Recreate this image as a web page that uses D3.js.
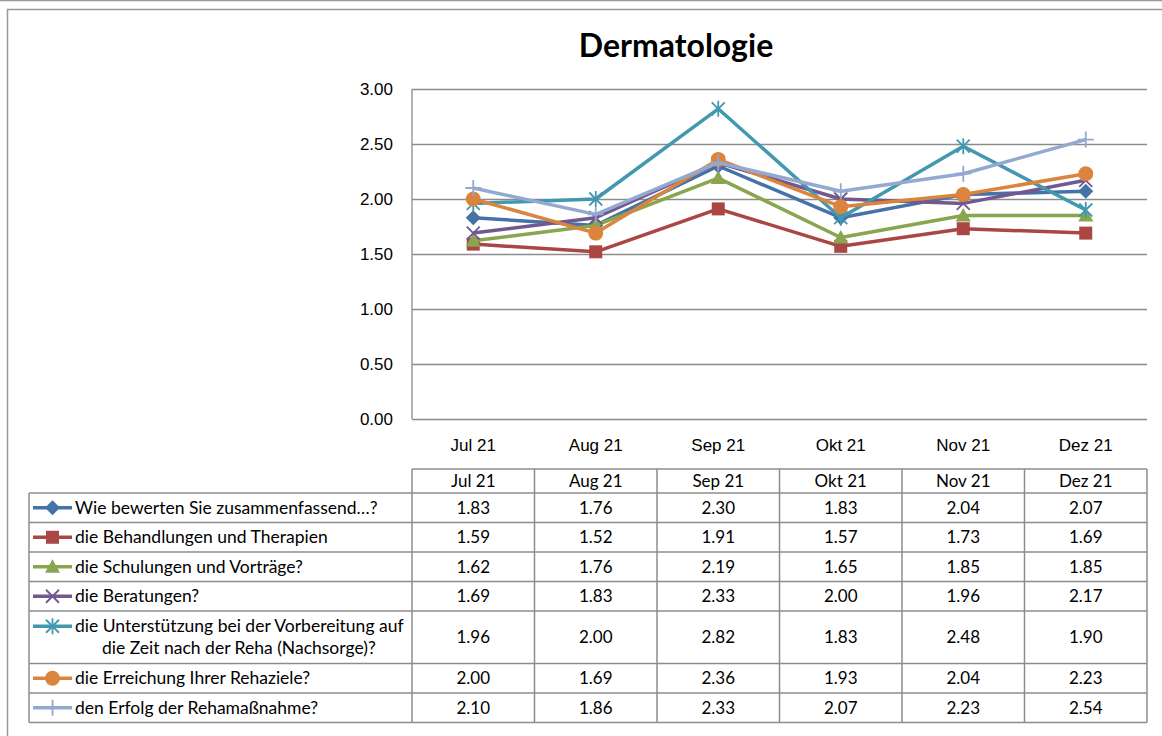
<!DOCTYPE html>
<html>
<head>
<meta charset="utf-8">
<script src="https://cdn.jsdelivr.net/npm/d3@7/dist/d3.min.js"></script>
<style>
body { margin: 0; background: #fff; }
svg { display: block; font-family: Lato, "Open Sans", sans-serif; }
.grid line { stroke: #8c8c8c; stroke-width: 1.3; }
.grid path { display: none; }
.ylab text, .xlab text { font-size: 17px; fill: #000; }
.ylab path, .ylab line, .xlab path, .xlab line { display: none; }
.tbl line { stroke: #8c8c8c; stroke-width: 1.5; }
.tbl text { font-size: 17px; fill: #000; }
.tbl text.leg { font-size: 17.5px; }
</style>
</head>
<body>
<svg width="1162" height="736"></svg>
<script>
// months
var months = ["Jul 21", "Aug 21", "Sep 21", "Okt 21", "Nov 21", "Dez 21"];
var seriesNames = [
  "Wie bewerten Sie zusammenfassend…?",
  "die Behandlungen und Therapien",
  "die Schulungen und Vorträge?",
  "die Beratungen?",
  "die Unterstützung bei der Vorbereitung auf|die Zeit nach der Reha (Nachsorge)?",
  "die Erreichung Ihrer Rehaziele?",
  "den Erfolg der Rehamaßnahme?"
];
var s1 = [1.83, 1.76, 2.30, 1.83, 2.04, 2.07];
var s2 = [1.59, 1.52, 1.91, 1.57, 1.73, 1.69];
var s3 = [1.62, 1.76, 2.19, 1.65, 1.85, 1.85];
var s4 = [1.69, 1.83, 2.33, 2.00, 1.96, 2.17];
var s5 = [1.96, 2.00, 2.82, 1.83, 2.48, 1.90];
var s6 = [2.00, 1.69, 2.36, 1.93, 2.04, 2.23];
var s7 = [2.10, 1.86, 2.33, 2.07, 2.23, 2.54];
var yTicks = [0, 0.5, 1, 1.5, 2, 2.5, 3];

var colors = ["#4572A7", "#AA4643", "#89A54E", "#71588F", "#4198AF", "#DB843D", "#93A9CF"];
var shapes = ["diamond", "square", "triangle", "x", "star", "circle", "plus"];
var series = [s1, s2, s3, s4, s5, s6, s7].map(function(v, i) {
  return {name: seriesNames[i], values: v, color: colors[i], shape: shapes[i]};
});

var svg = d3.select("svg");

// frame lines
svg.append("line").attr("x1", 0).attr("x2", 1162).attr("y1", 0.5).attr("y2", 0.5)
  .attr("stroke", "#999").attr("stroke-width", 1.5);
svg.append("path").attr("d", "M7.5,736V9.5H1162")
  .attr("fill", "none").attr("stroke", "#999").attr("stroke-width", 1.5);

var pLeft = 412, pRight = 1147, pTop = 89, pBottom = 419;
var x = d3.scaleBand().domain(months).range([pLeft, pRight]);
var y = d3.scaleLinear().domain([0, 3]).range([pBottom, pTop]);

svg.append("text").attr("x", 676).attr("y", 57).attr("text-anchor", "middle")
  .style("font-size", "32px").style("font-weight", "bold").text("Dermatologie");

// gridlines
svg.append("g").attr("class", "grid").attr("transform", "translate(" + pLeft + ",0)")
  .call(d3.axisLeft(y).tickValues(yTicks).tickSize(-(pRight - pLeft)).tickFormat(""));
svg.append("line").attr("x1", pLeft).attr("x2", pLeft).attr("y1", pTop).attr("y2", pBottom)
  .attr("stroke", "#8c8c8c").attr("stroke-width", 1.3);

svg.append("g").attr("class", "ylab").attr("transform", "translate(" + (pLeft - 19) + ",0)")
  .call(d3.axisLeft(y).tickValues(yTicks).tickSize(0).tickPadding(0).tickFormat(d3.format(".2f")))
  .selectAll("text").attr("dy", "0.35em");
svg.append("g").attr("class", "xlab").attr("transform", "translate(0," + (pBottom + 26) + ")")
  .call(d3.axisBottom(x).tickSize(0).tickPadding(0))
  .selectAll("text").attr("dy", "0.35em").attr("y", 0);

function marker(g, shape, color, cx, cy) {
  var s = 6.5;
  if (shape == "diamond") {
    g.append("path").attr("d", "M" + cx + "," + (cy - 7.5) + "L" + (cx + 7.5) + "," + cy + "L" + cx + "," + (cy + 7.5) + "L" + (cx - 7.5) + "," + cy + "Z").attr("fill", color);
  } else if (shape == "square") {
    g.append("rect").attr("x", cx - s).attr("y", cy - s).attr("width", 2 * s).attr("height", 2 * s).attr("fill", color);
  } else if (shape == "triangle") {
    g.append("path").attr("d", "M" + cx + "," + (cy - 7.5) + "L" + (cx + 7.5) + "," + (cy + 6) + "L" + (cx - 7.5) + "," + (cy + 6) + "Z").attr("fill", color);
  } else if (shape == "circle") {
    g.append("circle").attr("cx", cx).attr("cy", cy).attr("r", 7.5).attr("fill", color);
  } else {
    var d = "";
    if (shape == "x" || shape == "star") d += "M" + (cx - s) + "," + (cy - s) + "L" + (cx + s) + "," + (cy + s) + "M" + (cx - s) + "," + (cy + s) + "L" + (cx + s) + "," + (cy - s);
    if (shape == "star" || shape == "plus") d += "M" + cx + "," + (cy - 8) + "L" + cx + "," + (cy + 8);
    if (shape == "plus") d += "M" + (cx - 8) + "," + cy + "L" + (cx + 8) + "," + cy;
    g.append("path").attr("d", d).attr("stroke", color).attr("stroke-width", 1.8).attr("fill", "none");
  }
}

var line = d3.line()
  .x(function(d, i) { return x(months[i]) + x.bandwidth() / 2; })
  .y(function(d) { return y(d); });

series.forEach(function(s) {
  var g = svg.append("g");
  g.append("path").attr("d", line(s.values)).attr("fill", "none")
    .attr("stroke", s.color).attr("stroke-width", 3.5).attr("stroke-linejoin", "round");
  s.values.forEach(function(v, i) {
    marker(g, s.shape, s.color, x(months[i]) + x.bandwidth() / 2, y(v));
  });
});

// data table
var tbl = svg.append("g").attr("class", "tbl");
var tLeft = 29, headTop = 469;
var rowH = [29.5, 29.5, 29.5, 29.5, 52.5, 29.5, 29.5];
var rowTops = [493];
rowH.forEach(function(h, i) { rowTops.push(rowTops[i] + h); });
var tBottom = rowTops[rowTops.length - 1];

tbl.append("line").attr("x1", pLeft).attr("x2", pRight).attr("y1", headTop).attr("y2", headTop);
rowTops.forEach(function(ry) {
  tbl.append("line").attr("x1", tLeft).attr("x2", pRight).attr("y1", ry).attr("y2", ry);
});
tbl.append("line").attr("x1", tLeft).attr("x2", tLeft).attr("y1", rowTops[0]).attr("y2", tBottom);
months.forEach(function(m) {
  tbl.append("line").attr("x1", x(m)).attr("x2", x(m)).attr("y1", headTop).attr("y2", tBottom);
  tbl.append("text").attr("x", x(m) + x.bandwidth() / 2).attr("y", (headTop + rowTops[0]) / 2)
    .attr("dy", "0.35em").attr("text-anchor", "middle").text(m);
});
tbl.append("line").attr("x1", pRight).attr("x2", pRight).attr("y1", headTop).attr("y2", tBottom);

series.forEach(function(s, r) {
  var cy = rowTops[r] + rowH[r] / 2;
  var parts = s.name.split("|");
  var ly = parts.length > 1 ? cy - 11 : cy;
  tbl.append("line").attr("x1", 33).attr("x2", 72).attr("y1", ly).attr("y2", ly)
    .style("stroke", s.color).style("stroke-width", 3.5);
  marker(tbl.append("g"), s.shape, s.color, 52.5, ly);
  tbl.append("text").attr("class", "leg").attr("x", 75).attr("y", ly).attr("dy", "0.35em").text(parts[0]);
  if (parts.length > 1) {
    tbl.append("text").attr("class", "leg").attr("x", 102).attr("y", cy + 11).attr("dy", "0.35em").text(parts[1]);
  }
  s.values.forEach(function(v, i) {
    tbl.append("text").attr("x", x(months[i]) + x.bandwidth() / 2).attr("y", cy)
      .attr("dy", "0.35em").attr("text-anchor", "middle").text(v.toFixed(2));
  });
});
</script>
</body>
</html>
